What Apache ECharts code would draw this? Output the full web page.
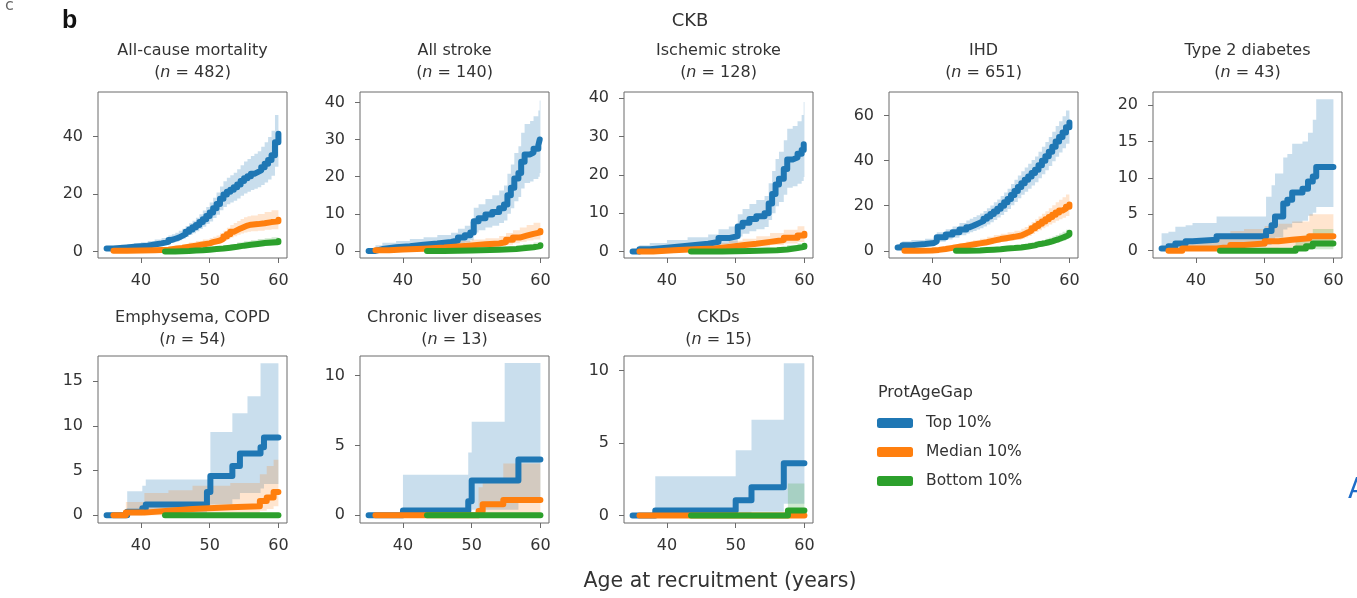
<!DOCTYPE html>
<html>
<head>
<meta charset="utf-8">
<title>CKB – cumulative incidence by ProtAgeGap</title>
<script src="https://cdn.jsdelivr.net/npm/echarts@6/dist/echarts.min.js"></script>
<style>
  html, body { margin: 0; padding: 0; background: #ffffff; }
  #chart { width: 1357px; height: 598px; }
</style>
</head>
<body>
<div id="chart"></div>
<script>
// ---- Panel meta ----
const panelTitles = ['All-cause mortality', 'All stroke', 'Ischemic stroke', 'IHD', 'Type 2 diabetes',
                     'Emphysema, COPD', 'Chronic liver diseases', 'CKDs'];
const panelCounts = [482, 140, 128, 651, 43, 54, 13, 15];
const groupNames = ['Top 10%', 'Median 10%', 'Bottom 10%'];
const ageRange = [33.75, 61.25];
const ageTicks = [40, 50, 60];
const yRanges = [[-2.3, 55.5], [-1.9, 42.8], [-1.7, 41.6], [-3.2, 70.5], [-1.0, 21.8],
                 [-0.86, 17.8], [-0.55, 11.4], [-0.52, 11.0]];
const yTicks = [[0, 20, 40], [0, 10, 20, 30, 40], [0, 10, 20, 30, 40], [0, 20, 40, 60], [0, 5, 10, 15, 20],
                [0, 5, 10, 15], [0, 5, 10], [0, 5, 10]];

// ---- Cumulative incidence (%) rows: [age, estimate, lower CI, upper CI] ----
// All-cause mortality
const mortTop = [[35,1.0,0.5,1.8],[36,1.2,0.6,2.0],[37,1.4,0.7,2.3],[38,1.6,0.9,2.6],[39,1.8,1.0,2.9],
  [40,2.0,1.2,3.2],[41,2.4,1.5,3.6],[42,2.8,1.8,4.1],[43,3.3,2.2,4.7],[44,4.0,2.8,5.5],[44.5,4.4,3.1,6.0],
  [45,4.8,3.4,6.5],[45.5,5.4,3.9,7.2],[46,6.0,4.4,7.9],[46.5,6.8,5.0,8.8],[47,7.6,5.7,9.8],[47.5,8.4,6.3,10.7],
  [48,9.2,7.0,11.7],[48.5,10.2,7.8,12.9],[49,11.2,8.6,14.2],[49.5,12.3,9.5,15.5],[50,13.5,10.4,17.0],
  [50.5,15.0,11.6,18.7],[51,16.5,12.8,20.5],[51.5,18.3,14.3,22.6],[52,19.8,15.5,24.4],[52.5,20.8,16.4,25.6],
  [53,21.5,17.0,26.5],[53.5,22.3,17.6,27.4],[54,23.3,18.4,28.6],[54.5,24.5,19.4,30.0],[55,25.5,20.2,31.3],
  [55.5,26.2,20.8,32.2],[56,27.0,21.4,33.2],[56.5,27.6,21.8,34.0],[57,28.2,22.3,34.9],[57.5,29.3,23.1,36.4],
  [58,30.5,24.0,38.0],[58.5,31.8,25.0,39.8],[59,33.5,26.3,42.0],[59.5,38.0,29.5,47.5],[60,41.0,31.5,52.0]];
const mortMed = [[36,0.2,0.0,0.6],[38,0.3,0.0,0.8],[40,0.4,0.1,1.0],[42,0.6,0.2,1.3],[44,0.9,0.4,1.7],
  [45,1.2,0.6,2.1],[46,1.6,0.9,2.6],[47,2.0,1.2,3.1],[48,2.4,1.5,3.6],[49,2.8,1.8,4.1],[50,3.2,2.1,4.7],
  [50.5,3.5,2.3,5.1],[51,3.8,2.5,5.5],[51.5,4.4,3.0,6.3],[52,5.2,3.6,7.2],[52.5,6.0,4.2,8.2],[53,6.8,4.8,9.2],
  [53.5,7.4,5.3,9.9],[54,8.0,5.8,10.6],[54.5,8.5,6.2,11.3],[55,9.0,6.6,11.9],[55.5,9.3,6.8,12.2],
  [56,9.5,7.0,12.5],[57,9.8,7.2,13.0],[58,10.2,7.5,13.7],[59,10.5,7.7,14.3],[60,11.0,8.0,15.2]];
const mortBot = [[43.5,0.0,0.0,0.3],[45,0.1,0.0,0.5],[47,0.3,0.0,0.8],[48,0.4,0.1,1.0],[49,0.6,0.2,1.3],
  [50,0.8,0.3,1.6],[51,1.0,0.4,1.9],[52,1.3,0.6,2.2],[53,1.6,0.8,2.6],[54,2.0,1.1,3.1],[55,2.3,1.3,3.5],
  [56,2.6,1.5,3.9],[57,2.9,1.7,4.3],[58,3.1,1.9,4.6],[59,3.3,2.0,4.9],[60,3.6,2.2,5.2]];

// All stroke
const strokeTop = [[35,0.0,0.0,0.5],[36,0.5,0.0,1.5],[37,1.0,0.2,2.2],[39,1.3,0.4,2.7],[41,1.7,0.6,3.2],
  [43,2.0,0.8,3.7],[45,2.4,1.1,4.3],[47,2.8,1.3,4.9],[48,3.6,1.9,6.0],[49,4.2,2.3,6.8],[49.8,5.0,2.9,7.8],
  [50.3,8.0,5.0,11.6],[51,8.8,5.6,12.6],[52,9.8,6.3,14.0],[53,10.5,6.8,15.0],[54,11.5,7.5,16.3],
  [54.7,12.5,8.2,17.6],[55.2,15.0,10.0,20.8],[55.7,17.0,11.5,23.3],[56.2,19.5,13.4,26.4],[56.8,21.0,14.5,28.2],
  [57.2,24.0,16.8,31.8],[57.7,26.0,18.3,34.2],[58.5,26.5,18.7,35.0],[59.0,27.5,19.4,36.3],
  [59.7,28.5,20.0,37.8],[59.9,30.0,21.0,40.5],[60,30.0,21.0,40.5]];
const strokeMed = [[36,0.2,0.0,0.8],[38,0.4,0.0,1.1],[40,0.6,0.1,1.4],[43,0.9,0.3,1.8],[46,1.2,0.5,2.2],
  [48,1.5,0.7,2.7],[50,1.8,0.9,3.1],[52,2.0,1.0,3.4],[54,2.4,1.3,4.0],[55,3.0,1.7,4.8],[56,3.6,2.1,5.6],
  [57,4.1,2.5,6.3],[58,4.6,2.8,7.0],[59,5.0,3.1,7.6],[60,5.4,3.4,8.3]];
const strokeBot = [[43.5,0.0,0.0,0.3],[46,0.1,0.0,0.5],[50,0.3,0.0,0.8],[54,0.5,0.1,1.1],[56.5,0.7,0.2,1.5],
  [57.5,1.0,0.4,1.9],[59,1.3,0.6,2.3],[60,1.5,0.7,2.6]];

// Ischemic stroke
const ischTop = [[35,0.0,0.0,0.5],[36,0.6,0.0,1.6],[37.5,1.0,0.2,2.2],[40,1.5,0.5,3.0],[43,2.0,0.8,3.7],
  [46,2.5,1.1,4.4],[47.5,3.5,1.8,5.8],[49,4.0,2.1,6.5],[50.3,6.5,3.9,9.7],[51,7.5,4.6,11.1],[52,8.5,5.3,12.4],
  [53,9.2,5.8,13.4],[54.2,10.0,6.4,14.5],[54.8,12.5,8.2,17.8],[55.3,15.0,10.0,21.0],[55.8,17.5,11.8,24.1],
  [56.3,19.0,12.9,26.0],[57,21.5,14.8,29.0],[57.5,24.0,16.6,32.0],[58.3,24.5,17.0,32.7],[59.0,25.5,17.7,34.0],
  [59.6,26.5,18.4,35.6],[59.9,28.0,19.4,39.0],[60,28.0,19.4,39.0]];
const ischMed = [[36,0.0,0.0,0.5],[38,0.3,0.0,0.9],[41,0.6,0.1,1.3],[44,0.8,0.3,1.7],[47,1.2,0.5,2.2],
  [49,1.6,0.7,2.8],[51,2.0,1.0,3.3],[53,2.5,1.3,4.0],[55,3.0,1.7,4.8],[57,3.6,2.1,5.7],[59,4.2,2.5,6.6],
  [60,4.6,2.8,7.4]];
const ischBot = [[43.5,0.0,0.0,0.3],[48,0.1,0.0,0.5],[52,0.3,0.0,0.8],[56,0.5,0.1,1.1],[57.5,0.9,0.3,1.7],
  [59,1.2,0.5,2.1],[60,1.5,0.6,2.5]];

// IHD
const ihdTop = [[35,1.5,0.5,3.0],[35.7,2.5,1.2,4.2],[37,3.0,1.6,4.8],[39,3.5,2.0,5.3],[40.3,4.2,2.6,6.1],
  [40.7,6.0,4.0,8.2],[42,7.2,5.0,9.6],[43,8.2,5.8,10.8],[44,9.5,6.9,12.3],[45,10.5,7.7,13.5],[45.5,11.1,8.2,14.2],
  [46,11.8,8.8,15.0],[46.5,12.5,9.4,15.8],[47,13.2,10.0,16.6],[47.5,14.2,10.8,17.7],[48,15.2,11.7,18.9],
  [48.5,16.3,12.7,20.1],[49,17.5,13.7,21.5],[49.5,18.7,14.8,22.8],[50,20.0,15.9,24.3],[50.5,21.5,17.2,25.9],
  [51,23.0,18.6,27.6],[51.5,24.8,20.2,29.6],[52,26.5,21.7,31.5],[52.5,28.3,23.3,33.4],[53,30.0,24.9,35.3],
  [53.5,31.5,26.2,37.0],[54,33.0,27.6,38.6],[54.5,34.5,29.0,40.3],[55,36.0,30.4,41.9],[55.5,38.0,32.2,44.0],
  [56,40.0,34.0,46.2],[56.5,42.0,35.8,48.3],[57,44.0,37.7,50.5],[57.5,46.2,39.7,52.9],[58,48.5,41.8,55.4],
  [58.5,50.5,43.6,57.5],[59,52.5,45.5,59.7],[59.5,54.8,47.5,62.3],[60,57.0,49.5,65.0]];
const ihdMed = [[36,0.0,0.0,0.5],[38,0.1,0.0,0.6],[40,0.4,0.0,1.1],[41,0.8,0.2,1.6],[42,1.3,0.5,2.2],
  [43,1.8,0.9,2.9],[44,2.3,1.2,3.5],[45,2.8,1.6,4.1],[46,3.3,2.0,4.7],[47,3.8,2.4,5.3],[48,4.5,2.9,6.2],
  [49,5.2,3.5,7.0],[50,5.7,3.9,7.6],[51,6.2,4.3,8.2],[52,6.8,4.8,8.9],[53,7.5,5.3,9.8],[53.5,8.2,5.9,10.6],
  [54,9.0,6.6,11.6],[54.5,10.0,7.4,12.8],[55,11.0,8.3,14.0],[55.5,12.0,9.1,15.2],[56,13.0,10.0,16.4],
  [56.5,14.0,10.8,17.6],[57,15.0,11.7,18.9],[57.5,16.0,12.5,20.2],[58,17.0,13.3,21.5],[58.5,17.9,14.0,22.7],
  [59,18.7,14.7,23.8],[59.5,19.6,15.4,25.0],[60,20.5,16.1,26.3]];
const ihdBot = [[43.5,0.0,0.0,0.4],[45,0.1,0.0,0.5],[47,0.3,0.0,0.8],[48,0.5,0.1,1.1],[49,0.7,0.2,1.4],
  [50,1.0,0.4,1.8],[51,1.2,0.5,2.1],[52,1.5,0.7,2.5],[53,1.9,1.0,3.0],[54,2.4,1.4,3.6],[55,2.9,1.8,4.2],
  [55.5,3.1,2.0,4.5],[56,3.4,2.2,4.8],[56.5,3.8,2.5,5.3],[57,4.2,2.8,5.8],[57.5,4.7,3.2,6.4],[58,5.2,3.6,7.0],
  [58.5,5.8,4.1,7.7],[59,6.4,4.6,8.4],[59.5,7.2,5.2,9.3],[60,8.0,5.9,10.3]];

// Type 2 diabetes
const t2dTop = [[35,0.3,0.0,2.4],[36,0.6,0.0,2.6],[37,1.0,0.1,3.3],[38.5,1.3,0.2,3.5],[39.5,1.5,0.3,3.8],
  [43,2.0,0.5,4.7],[50.2,2.7,0.8,7.4],[51,3.5,1.2,9.0],[51.5,4.7,1.8,10.6],[52.7,6.5,2.9,12.8],
  [53.3,7.0,3.2,13.3],[54,8.0,3.8,14.7],[55.5,8.5,4.1,15.0],[56.3,9.5,4.8,16.2],[57,10.2,5.2,18.0],
  [57.5,11.5,6.0,20.8],[60,11.5,6.0,20.8]];
const t2dMed = [[36,0.0,0.0,0.4],[38,0.3,0.0,1.5],[43,0.5,0.0,2.3],[45,0.8,0.1,2.7],[47,1.0,0.2,3.0],
  [50,1.3,0.3,3.4],[52,1.5,0.4,3.7],[54,1.7,0.5,4.0],[56.5,2.0,0.6,5.0],[60,2.0,0.6,5.0]];
const t2dBot = [[43.5,0.0,0.0,0.2],[54.5,0.3,0.0,1.5],[56,0.6,0.1,2.3],[57,1.0,0.2,3.0],[60,1.0,0.2,3.0]];

// Emphysema, COPD
const copdTop = [[35,0.0,0.0,0.0],[38,0.4,0.0,2.7],[40.2,0.8,0.1,3.3],[40.7,1.2,0.2,4.0],[49.6,2.6,0.6,4.0],
  [50.1,4.4,1.2,9.3],[53.3,5.5,1.8,11.4],[54.4,6.9,2.5,11.4],[55.5,6.9,2.5,13.3],[57.4,7.6,3.0,17.0],
  [57.9,8.7,3.5,17.0],[60,8.7,3.5,17.0]];
const copdMed = [[36,0.0,0.0,0.3],[37.8,0.3,0.0,1.5],[40.5,0.5,0.0,2.5],[44,0.7,0.1,2.8],[47.5,0.9,0.2,3.3],
  [53,1.0,0.2,3.6],[57.3,1.6,0.5,4.6],[58.3,2.0,0.7,5.5],[59.3,2.6,1.0,6.2],[60,2.6,1.0,6.2]];
const copdBot = [[43.5,0.0,0.0,0.0],[60,0.0,0.0,0.0]];

// Chronic liver diseases
const liverTop = [[35,0.0,0.0,0.0],[40,0.35,0.0,2.9],[49.5,1.0,0.1,4.5],[50,2.5,0.4,6.7],[54.8,2.5,0.4,10.9],
  [56.8,4.0,0.9,10.9],[60,4.0,0.9,10.9]];
const liverMed = [[36,0.0,0.0,0.0],[51,0.3,0.0,2.0],[51.6,0.8,0.0,2.6],[54.6,1.1,0.1,3.7],[60,1.1,0.1,3.7]];
const liverBot = [[43.5,0.0,0.0,0.0],[60,0.0,0.0,0.0]];

// CKDs
const ckdTop = [[35,0.0,0.0,0.0],[38.3,0.35,0.0,2.7],[50,1.05,0.1,4.5],[52.3,1.95,0.25,6.6],
  [57,3.6,0.8,10.5],[60,3.6,0.8,10.5]];
const ckdMed = [[36,0.0,0.0,0.0],[60,0.0,0.0,0.0]];
const ckdBot = [[43.5,0.0,0.0,0.0],[57.6,0.35,0.0,2.2],[60,0.35,0.0,2.2]];

const topCurves = [mortTop, strokeTop, ischTop, ihdTop, t2dTop, copdTop, liverTop, ckdTop];
const medCurves = [mortMed, strokeMed, ischMed, ihdMed, t2dMed, copdMed, liverMed, ckdMed];
const botCurves = [mortBot, strokeBot, ischBot, ihdBot, t2dBot, copdBot, liverBot, ckdBot];

// ---- Styling / layout ----
const groupColors = ['#1f77b4', '#ff7f0e', '#2ca02c'];
const bandColors = ['rgba(31,119,180,0.24)', 'rgba(255,127,14,0.20)', 'rgba(44,160,44,0.22)'];
const FONT = 'DejaVu Sans';
const colLefts = [98, 360, 624, 889, 1153];
const panelW = 189;
const rowTops = [92, 356];
const rowHeights = [166, 167];
const titleTops = [35, 302];
const TITLE_PAD = 5;   // title component's own padding, removed so text centres on the panel

function panelBox(p) {
  const row = p < 5 ? 0 : 1;
  const col = p < 5 ? p : p - 5;
  return { left: colLefts[col], top: rowTops[row], width: panelW, height: rowHeights[row], row };
}

// Confidence band drawn as one stepped polygon through the axis scales
function bandRenderer(fill) {
  return function (params, api) {
    if (params.dataIndexInside !== 0) return null;
    const n = params.dataInsideLength;
    const upper = [], lower = [];
    for (let i = 0; i < n; i++) {
      const x = api.value(0, i), lo = api.value(1, i), hi = api.value(2, i);
      const xn = i < n - 1 ? api.value(0, i + 1) : x;
      upper.push(api.coord([x, hi]), api.coord([xn, hi]));
      lower.push(api.coord([x, lo]), api.coord([xn, lo]));
    }
    return {
      type: 'polygon',
      shape: { points: upper.concat(lower.reverse()) },
      style: { fill: fill },
      silent: true
    };
  };
}

const grids = [], xAxes = [], yAxes = [], series = [], titles = [];
const curveSets = [topCurves, medCurves, botCurves];
const labelStyle = { color: '#333', fontSize: 16, fontFamily: FONT };

for (let p = 0; p < panelTitles.length; p++) {
  const box = panelBox(p);
  grids.push({
    left: box.left, top: box.top, width: box.width, height: box.height,
    show: true, borderColor: '#6b6b6b', borderWidth: 1, backgroundColor: 'transparent',
    containLabel: false
  });
  xAxes.push({
    gridIndex: p, type: 'value', min: ageRange[0], max: ageRange[1],
    axisLine: { show: false, onZero: false },
    splitLine: { show: false },
    axisTick: { show: true, length: 5, customValues: ageTicks, lineStyle: { color: '#6b6b6b', width: 1 } },
    axisLabel: Object.assign({ customValues: ageTicks, margin: 15 }, labelStyle)
  });
  yAxes.push({
    gridIndex: p, type: 'value', min: yRanges[p][0], max: yRanges[p][1],
    axisLine: { show: false, onZero: false },
    splitLine: { show: false },
    axisTick: { show: true, length: 5, customValues: yTicks[p], lineStyle: { color: '#6b6b6b', width: 1 } },
    axisLabel: Object.assign({ customValues: yTicks[p], margin: 15 }, labelStyle)
  });
  titles.push({
    text: '{a|' + panelTitles[p] + '}\n{a|(}{i|n}{a| = ' + panelCounts[p] + ')}',
    left: box.left + box.width / 2 - TITLE_PAD, top: titleTops[box.row], textAlign: 'center',
    textStyle: {
      fontWeight: 'normal',
      rich: {
        a: { fontSize: 16, color: '#333', fontFamily: FONT, fontWeight: 'normal', lineHeight: 22 },
        i: { fontSize: 16, color: '#333', fontFamily: FONT, fontWeight: 'normal', fontStyle: 'italic', lineHeight: 22 }
      }
    }
  });

  // bands first, then lines (Top, Median, Bottom order)
  for (let g = 0; g < 3; g++) {
    const rows = curveSets[g][p];
    series.push({
      type: 'custom', name: groupNames[g] + ' CI',
      xAxisIndex: p, yAxisIndex: p,
      data: rows.map(r => [r[0], r[2], r[3]]),
      encode: { x: 0, y: [1, 2] },
      renderItem: bandRenderer(bandColors[g]),
      z: 1, silent: true, animation: false
    });
  }
  for (let g = 0; g < 3; g++) {
    const rows = curveSets[g][p];
    series.push({
      type: 'line', name: groupNames[g],
      xAxisIndex: p, yAxisIndex: p,
      step: 'end',
      data: rows.map(r => [r[0], r[1]]),
      symbol: 'none',
      lineStyle: { color: groupColors[g], width: 6, cap: 'round', join: 'round' },
      itemStyle: { color: groupColors[g] },
      z: 3 + g, silent: true, animation: false
    });
  }
}

// Figure-level texts
titles.push(
  { text: 'CKB', left: 690 - TITLE_PAD, top: 7, textAlign: 'center',
    textStyle: { fontSize: 18, fontWeight: 'normal', color: '#333', fontFamily: FONT } },
  { text: 'b', left: 57, top: 4,
    textStyle: { fontSize: 25, fontWeight: 'bold', color: '#111', fontFamily: 'Liberation Sans' } },
  { text: 'c', left: 0, top: -7,
    textStyle: { fontSize: 16, fontWeight: 'normal', color: '#666', fontFamily: FONT } },
  { text: 'A', left: 1343, top: 472,
    textStyle: { fontSize: 28, fontWeight: 'normal', color: '#1d6cc8', fontFamily: FONT } },
  { text: 'Age at recruitment (years)', left: 720 - TITLE_PAD, top: 566, textAlign: 'center',
    textStyle: { fontSize: 20.5, fontWeight: 'normal', color: '#333', fontFamily: FONT } },
  { text: 'ProtAgeGap', left: 873, top: 380,
    textStyle: { fontSize: 16, fontWeight: 'normal', color: '#333', fontFamily: FONT } }
);

const chart = echarts.init(document.getElementById('chart'), null, { renderer: 'canvas' });
chart.setOption({
  backgroundColor: '#ffffff',
  animation: false,
  title: titles,
  legend: {
    data: groupNames,
    orient: 'vertical',
    left: 872, top: 410,
    icon: 'roundRect',
    itemWidth: 36, itemHeight: 10, itemGap: 13,
    textStyle: { fontSize: 15.5, color: '#333', fontFamily: FONT, padding: [0, 0, 0, 8] },
    selectedMode: false
  },
  grid: grids,
  xAxis: xAxes,
  yAxis: yAxes,
  series: series
});
</script>
</body>
</html>
